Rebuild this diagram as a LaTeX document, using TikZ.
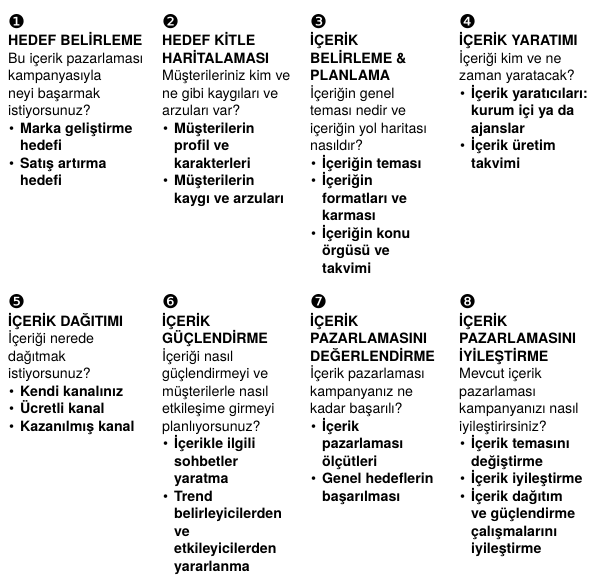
\documentclass[tikz,border=0pt]{standalone}
\usepackage{fontspec}
\setmainfont{TeX Gyre Heros}
\newfontfamily\numfont{DejaVu Sans}
\usepackage{tikz}
\usetikzlibrary{positioning}

\newcommand{\stepno}[1]{\smash{\numfont\fontsize{19}{17.5}\selectfont #1}}
\newcommand{\bul}{\makebox[12pt][l]{\hspace{1pt}\textbullet}}
\newcommand{\cont}{\hspace*{12pt}}

\begin{document}
\begin{tikzpicture}[block/.style={anchor=north west, align=left, inner sep=0pt,
    font=\fontsize{14.2}{17.5}\selectfont}]
  \useasboundingbox (0,0) rectangle (606pt,-585pt);
  \node[block] (goal) at (8pt,-28.2pt) {\stepno{❶}\\
    \textbf{HEDEF BELİRLEME}\\
    Bu içerik pazarlaması\\ kampanyasıyla\\ neyi başarmak\\ istiyorsunuz?\\
    \bul\textbf{Marka geliştirme}\\ \cont\textbf{hedefi}\\
    \bul\textbf{Satış artırma}\\ \cont\textbf{hedefi}};
  \node[block] (audience) at (162pt,-28.2pt) {\stepno{❷}\\
    \textbf{HEDEF KİTLE}\\ \textbf{HARİTALAMASI}\\
    Müşterileriniz kim ve\\ ne gibi kaygıları ve\\ arzuları var?\\
    \bul\textbf{Müşterilerin}\\ \cont\textbf{profil ve}\\ \cont\textbf{karakterleri}\\
    \bul\textbf{Müşterilerin}\\ \cont\textbf{kaygı ve arzuları}};
  \node[block] (planning) at (310pt,-28.2pt) {\stepno{❸}\\
    \textbf{İÇERİK}\\ \textbf{BELİRLEME \&}\\ \textbf{PLANLAMA}\\
    İçeriğin genel\\ teması nedir ve\\ içeriğin yol haritası\\ nasıldır?\\
    \bul\textbf{İçeriğin teması}\\
    \bul\textbf{İçeriğin}\\ \cont\textbf{formatları ve}\\ \cont\textbf{karması}\\
    \bul\textbf{İçeriğin konu}\\ \cont\textbf{örgüsü ve}\\ \cont\textbf{takvimi}};
  \node[block] (creation) at (459pt,-28.2pt) {\stepno{❹}\\
    \textbf{İÇERİK YARATIMI}\\
    İçeriği kim ve ne\\ zaman yaratacak?\\
    \bul\textbf{İçerik yaratıcıları:}\\ \cont\textbf{kurum içi ya da}\\ \cont\textbf{ajanslar}\\
    \bul\textbf{İçerik üretim}\\ \cont\textbf{takvimi}};
  \node[block] (distribution) at (8pt,-308.5pt) {\stepno{❺}\\
    \textbf{İÇERİK DAĞITIMI}\\
    İçeriği nerede\\ dağıtmak\\ istiyorsunuz?\\
    \bul\textbf{Kendi kanalınız}\\
    \bul\textbf{Ücretli kanal}\\
    \bul\textbf{Kazanılmış kanal}};
  \node[block] (amplify) at (162pt,-308.5pt) {\stepno{❻}\\
    \textbf{İÇERİK}\\ \textbf{GÜÇLENDİRME}\\
    İçeriği nasıl\\ güçlendirmeyi ve\\ müşterilerle nasıl\\ etkileşime girmeyi\\ planlıyorsunuz?\\
    \bul\textbf{İçerikle ilgili}\\ \cont\textbf{sohbetler}\\ \cont\textbf{yaratma}\\
    \bul\textbf{Trend}\\ \cont\textbf{belirleyicilerden}\\ \cont\textbf{ve}\\
    \cont\textbf{etkileyicilerden}\\ \cont\textbf{yararlanma}};
  \node[block] (evaluate) at (310pt,-308.5pt) {\stepno{❼}\\
    \textbf{İÇERİK}\\ \textbf{PAZARLAMASINI}\\ \textbf{DEĞERLENDİRME}\\
    İçerik pazarlaması\\ kampanyanız ne\\ kadar başarılı?\\
    \bul\textbf{İçerik}\\ \cont\textbf{pazarlaması}\\ \cont\textbf{ölçütleri}\\
    \bul\textbf{Genel hedeflerin}\\ \cont\textbf{başarılması}};
  \node[block] (improve) at (459pt,-308.5pt) {\stepno{❽}\\
    \textbf{İÇERİK}\\ \textbf{PAZARLAMASINI}\\ \textbf{İYİLEŞTİRME}\\
    Mevcut içerik\\ pazarlaması\\ kampanyanızı nasıl\\ iyileştirirsiniz?\\
    \bul\textbf{İçerik temasını}\\ \cont\textbf{değiştirme}\\
    \bul\textbf{İçerik iyileştirme}\\
    \bul\textbf{İçerik dağıtım}\\ \cont\textbf{ve güçlendirme}\\
    \cont\textbf{çalışmalarını}\\ \cont\textbf{iyileştirme}};
\end{tikzpicture}
\end{document}
